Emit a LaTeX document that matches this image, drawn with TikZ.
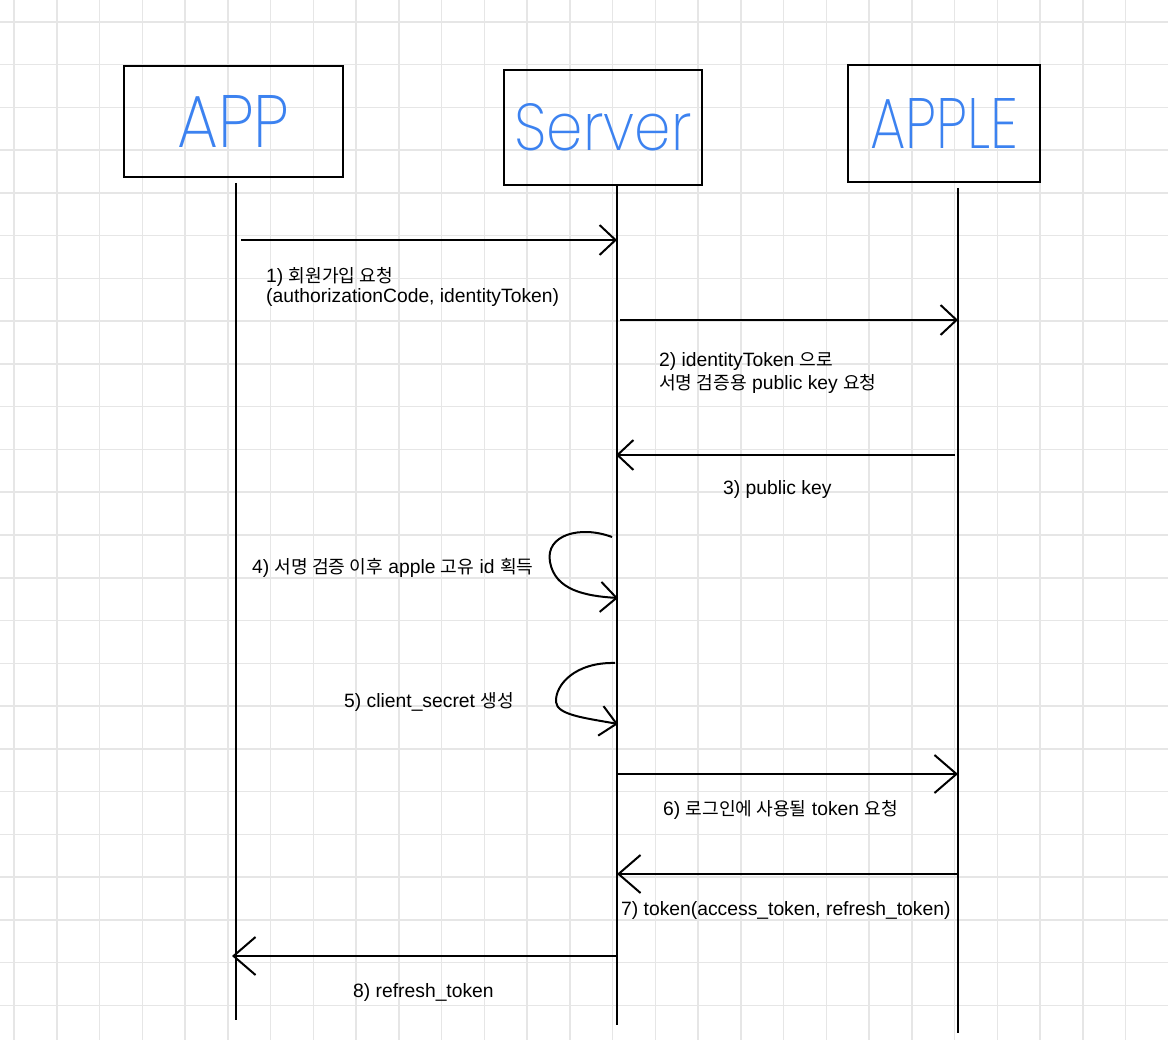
\documentclass[tikz,border=0pt]{standalone}
\usepackage{fontspec}
\usepackage{graphicx}
\usetikzlibrary{arrows.meta}
\setmainfont{Liberation Sans}
\newfontfamily\krf[Scale=0.94]{Noto Sans CJK KR}
\IfFontExistsTF{Poppins ExtraLight}{\newfontfamily\handf{Poppins ExtraLight}}{%
  \IfFontExistsTF{Poppins Light}{\newfontfamily\handf{Poppins Light}}{\newfontfamily\handf{Poppins}}}
\newcommand\K[1]{{\krf #1}}
\definecolor{gridc}{HTML}{E6E6E6}
\definecolor{handblue}{HTML}{3C82F0}
\tikzset{
  titlebox/.style={draw=black, line width=2.2pt, inner sep=0pt, text=handblue, font=\handf\fontsize{60}{66}\selectfont},
  life/.style={line width=2pt},
  msg/.style={line width=2pt, -{Straight Barb[length=16pt,width=30pt,line width=2pt]}},
  bigmsg/.style={line width=2pt, -{Straight Barb[length=22pt,width=38pt,line width=2pt]}},
  lbl/.style={anchor=base west, inner sep=0pt, font=\fontsize{19.3}{23}\selectfont, text=black},
  gridline/.style={gridc, line width=1.5pt},
}
\begin{document}
\begin{tikzpicture}[x=1pt,y=-1pt]
\useasboundingbox (0,0) rectangle (1168,1040);
\fill[white] (0,0) rectangle (1168,1040);
% grid
\foreach \i in {0,...,26} \draw[gridline] ({14+42.75*\i},0) -- ({14+42.75*\i},1040);
\foreach \j in {0,...,23} \draw[gridline] (0,{22+42.75*\j}) -- (1168,{22+42.75*\j});
% participants
\node[titlebox, minimum width=219pt, minimum height=111pt] (app) at (233.5,121.5) {\resizebox{112pt}{52pt}{APP}};
\node[titlebox, minimum width=198pt, minimum height=115pt] (server) at (603,127.5) {\resizebox{177pt}{47pt}{Server}};
\node[titlebox, minimum width=192pt, minimum height=117pt] (apple) at (944,123.5) {\resizebox{148pt}{50pt}{APPLE}};
% lifelines
\coordinate (appT) at (236,183); \coordinate (appB) at (236,1020);
\coordinate (srvT) at (617,186); \coordinate (srvB) at (617,1025);
\coordinate (aplT) at (958,188); \coordinate (aplB) at (958,1033);
\draw[life] (appT) -- (appB);
\draw[life] (srvT) -- (srvB);
\draw[life] (aplT) -- (aplB);
% message end points
\coordinate (m1s) at (241,240); \coordinate (m1e) at (617,240);
\coordinate (m2s) at (620,320); \coordinate (m2e) at (958,320);
\coordinate (m3s) at (955,455); \coordinate (m3e) at (616,455);
\coordinate (m4s) at (612,537); \coordinate (m4e) at (618,598);
\coordinate (m5s) at (615,663); \coordinate (m5e) at (618,724);
\coordinate (m6s) at (618,774); \coordinate (m6e) at (958,774);
\coordinate (m7s) at (958,874); \coordinate (m7e) at (617,874);
\coordinate (m8s) at (616,956); \coordinate (m8e) at (232,956);
% messages
\draw[msg] (m1s) -- (m1e);
\draw[msg] (m2s) -- (m2e);
\draw[msg] (m3s) -- (m3e);
\draw[msg] (m4s) .. controls (580,525) and (545,535) .. (550,562) .. controls (555,590) and (585,596) .. (m4e);
\draw[msg] (m5s) .. controls (575,662) and (555,685) .. (556,702) .. controls (557,715) and (585,718) .. (m5e);
\draw[bigmsg] (m6s) -- (m6e);
\draw[bigmsg] (m7s) -- (m7e);
\draw[bigmsg] (m8s) -- (m8e);
% labels
\node[lbl] (l1a) at (266,283) {1) \K{회원가입 요청}};
\node[lbl] (l1b) at (266,303) {(authorizationCode, identityToken)};
\node[lbl] (l2a) at (659,367) {2) identityToken \K{으로}};
\node[lbl] (l2b) at (659,390) {\K{서명 검증용} public key \K{요청}};
\node[lbl] (l3) at (723,495) {3) public key};
\node[lbl] (l4) at (252,573) {4) \K{서명 검증 이후} apple \K{고유} id \K{획득}};
\node[lbl] (l5) at (344,707) {5) client\_secret \K{생성}};
\node[lbl] (l6) at (663,815) {6) \K{로그인에 사용될} token \K{요청}};
\node[lbl] (l7) at (621,915) {7) token(access\_token, refresh\_token)};
\node[lbl] (l8) at (353,997) {8) refresh\_token};
\end{tikzpicture}
\end{document}
